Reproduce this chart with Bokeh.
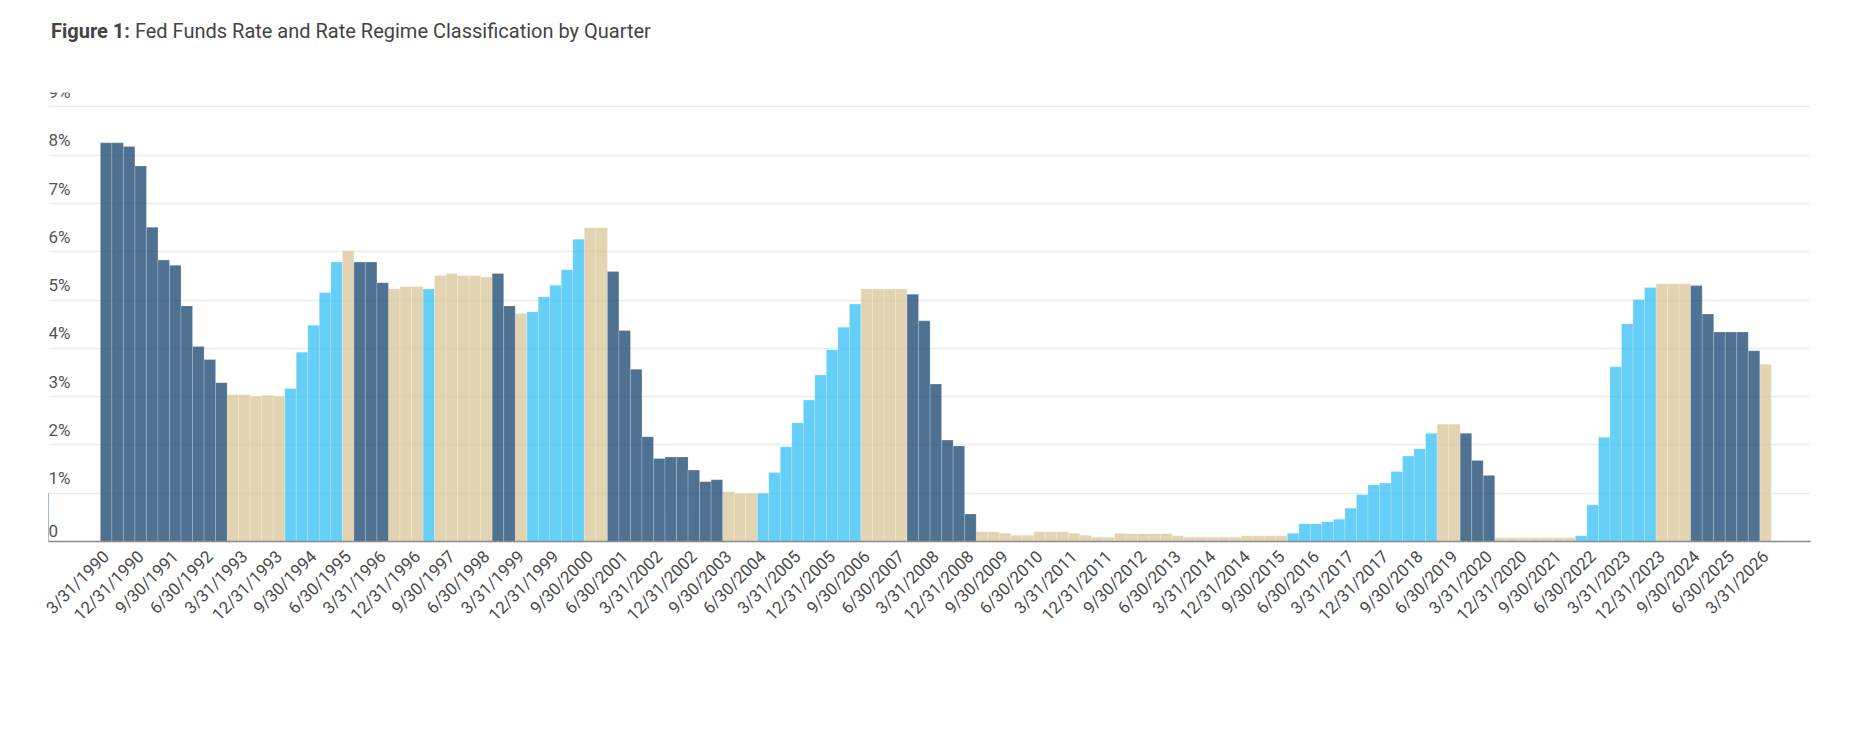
from bokeh.plotting import figure
from bokeh.models import ColumnDataSource, Legend, LegendItem, Div, FixedTicker, Range1d
from bokeh.layouts import column
from bokeh.core.properties import value
from bokeh.embed import file_html
from bokeh.resources import INLINE
import math

rates = [8.26, 8.26, 8.18, 7.78, 6.51, 5.83, 5.72, 4.88, 4.04, 3.77, 3.29,
         3.04, 3.04, 3.01, 3.03, 3.01,
         3.17, 3.92, 4.48, 5.16, 5.79, 6.02, 5.79, 5.79, 5.36,
         5.23, 5.28, 5.28, 5.23, 5.51, 5.55, 5.51, 5.51, 5.48, 5.55, 4.88, 4.72,
         4.76, 5.07, 5.31, 5.63, 6.26, 6.50, 6.50,
         5.59, 4.37, 3.57, 2.17, 1.72, 1.75, 1.75, 1.48, 1.24, 1.28,
         1.03, 1.00, 1.00,
         1.00, 1.43, 1.96, 2.46, 2.93, 3.45, 3.97, 4.44, 4.92,
         5.23, 5.23, 5.23, 5.23,
         5.12, 4.57, 3.26, 2.10, 1.98, 0.57,
         0.20, 0.20, 0.17, 0.13, 0.13, 0.20, 0.20, 0.20, 0.17, 0.13, 0.09, 0.09, 0.17,
         0.16, 0.16, 0.16, 0.16, 0.12, 0.09, 0.09, 0.09, 0.09, 0.09, 0.12, 0.12, 0.12, 0.12,
         0.17, 0.37, 0.37, 0.41, 0.46, 0.69, 0.97, 1.17, 1.21, 1.45, 1.77, 1.92, 2.24,
         2.43, 2.43,
         2.24, 1.68, 1.37,
         0.08, 0.08, 0.08, 0.08, 0.08, 0.08, 0.08,
         0.12, 0.76, 2.16, 3.62, 4.51, 5.01, 5.26,
         5.34, 5.34, 5.34,
         5.30, 4.71, 4.34, 4.34, 4.34, 3.95,
         3.67]

regimes = (["Easing"] * 11 + ["Stable"] * 5 + ["Hiking"] * 5 + ["Stable"] + ["Easing"] * 3
           + ["Stable"] * 3 + ["Hiking"] + ["Stable"] * 5 + ["Easing"] * 2 + ["Stable"]
           + ["Hiking"] * 5 + ["Stable"] * 2 + ["Easing"] * 10 + ["Stable"] * 3
           + ["Hiking"] * 9 + ["Stable"] * 4 + ["Easing"] * 6 + ["Stable"] * 27
           + ["Hiking"] * 13 + ["Stable"] * 2 + ["Easing"] * 3 + ["Stable"] * 7
           + ["Hiking"] * 7 + ["Stable"] * 3 + ["Easing"] * 6 + ["Stable"])

quarter_ends = ["3/31", "6/30", "9/30", "12/31"]
quarters = [f"{quarter_ends[i % 4]}/{1990 + i // 4}" for i in range(len(rates))]

y_ticks = [0, 1, 2, 3, 4, 5, 6, 7, 8, 9]
y_tick_labels = ["0", "1%", "2%", "3%", "4%", "5%", "6%", "7%", "8%", "9%"]

categories = ["Hiking", "Stable", "Easing"]
colors = {"Hiking": "#2bbcf5", "Stable": "#d8c393", "Easing": "#0b3c68"}

FONT = "Roboto"
TXT = "#4a4a4a"

p = figure(frame_width=1762, frame_height=449, output_backend="svg", toolbar_location=None,
           x_range=Range1d(-5.0, 147.9), y_range=Range1d(0, 9.3),
           min_border_left=48, min_border_right=22, min_border_top=32, min_border_bottom=10)
p.outline_line_color = None
p.background_fill_color = "white"

legend_renderers = {}
for cat in categories:
    idx = [i for i, r in enumerate(regimes) if r == cat]
    src = ColumnDataSource(dict(x=idx, top=[rates[i] for i in idx]))
    p.vbar(x="x", top="top", width=1.0, bottom=0, source=src,
           fill_color=colors[cat], fill_alpha=0.72, line_color="white",
           line_alpha=0.35, line_width=0.6)
    legend_renderers[cat] = p.vbar(x=[-100], top=[1], width=1, bottom=0,
                                   fill_color=colors[cat], line_color=None)

p.yaxis.visible = False
p.ygrid.ticker = FixedTicker(ticks=y_ticks)
p.ygrid.grid_line_color = "#ececec"
p.ygrid.grid_line_width = 1.5
p.xgrid.grid_line_color = None

p.text(x=[-5.0] * len(y_ticks), y=y_ticks, text=y_tick_labels, text_font=value(FONT),
       text_font_size="17px", text_color="#555555", text_baseline="bottom",
       text_align="left", y_offset=-5)

p.xaxis.ticker = FixedTicker(ticks=list(range(0, len(rates), 3)))
p.xaxis.major_label_overrides = {i: quarters[i] for i in range(0, len(rates), 3)}
p.xaxis.major_label_orientation = math.pi / 4
p.xaxis.major_label_text_font = FONT
p.xaxis.major_label_text_font_size = "17px"
p.xaxis.major_label_text_color = TXT
p.xaxis.axis_line_color = "#8a8a8a"
p.xaxis.axis_line_width = 1.5
p.xaxis.major_tick_line_color = None
p.xaxis.minor_tick_line_color = None
p.xaxis.major_label_standoff = 6

legend = Legend(items=[LegendItem(label=c, renderers=[legend_renderers[c]]) for c in categories],
                orientation="horizontal", location="center",
                label_text_font=FONT, label_text_font_size="17px", label_text_color=TXT,
                glyph_width=19, glyph_height=19, spacing=28, border_line_color=None,
                margin=18, padding=4)
p.add_layout(legend, "below")

title = Div(text='<span style="font-weight:bold">Figure 1:</span> Fed Funds Rate and Rate Regime Classification by Quarter',
            width=1200, height=50,
            styles={"font-family": FONT, "font-size": "20px", "color": "#444444",
                    "padding-left": "46px", "padding-top": "12px"})
src_div = Div(text="Sources: Federal Reserve, Newmark Research", width=800, height=28,
              styles={"font-family": FONT, "font-size": "16px", "font-style": "italic",
                      "color": "#444444", "padding-left": "50px"})

layout = column(title, p, src_div, spacing=0)
open("out.html", "w").write(file_html(layout, INLINE))
